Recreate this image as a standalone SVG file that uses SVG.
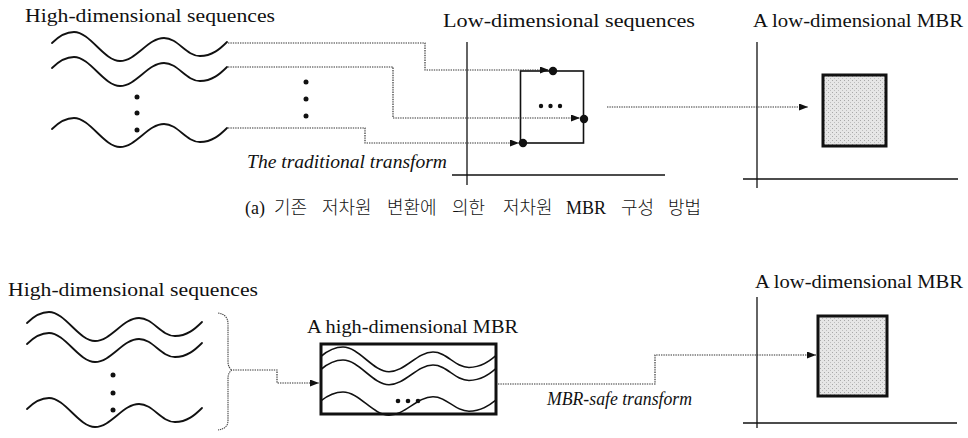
<svg xmlns="http://www.w3.org/2000/svg" width="968" height="438" viewBox="0 0 968 438">
<style>
.t{font-family:"Liberation Serif","Times New Roman",serif;font-size:19px;fill:#111}
.it{font-family:"Liberation Serif","Times New Roman",serif;font-size:18px;font-style:italic;fill:#111}
.cap{font-family:"Noto Sans CJK KR",sans-serif;font-size:18px;font-weight:300;fill:#111}
.lat{font-family:"Liberation Serif","Times New Roman",serif;font-size:18px;font-weight:normal}
.wave{fill:none;stroke:#111;stroke-width:1.8;stroke-linecap:round}
.axis{fill:none;stroke:#111;stroke-width:1.3}
.dot{fill:#111}
.conn{fill:none;stroke:#333;stroke-width:1.2;stroke-dasharray:1.4 1}
.mbr{fill:url(#stip);stroke:#111;stroke-width:3}
</style>
<defs>
<path id="w" d="M0,11 C6,5 14,0 22,0 C38,0 52,29 68,29 C84,29 96,6 112,6 C126,6 134,24 148,24 C160,24 168,17 175,10"/>
<pattern id="stip" width="4" height="4" patternUnits="userSpaceOnUse">
<rect width="4" height="4" fill="#e6e6e6"/>
<rect x="0" y="0" width="1" height="1" fill="#a8a8a8"/>
<rect x="2" y="2" width="1" height="1" fill="#bdbdbd"/>
</pattern>
<marker id="ah" markerUnits="userSpaceOnUse" markerWidth="9" markerHeight="7" refX="9" refY="3.5" orient="auto">
<path d="M0,0 L9,3.5 L0,7 Z" fill="#111"/>
</marker>
</defs>

<g id="top-hd-seqs">
<text class="t" x="25" y="22" textLength="250" lengthAdjust="spacingAndGlyphs">High-dimensional sequences</text>
<use href="#w" class="wave" transform="translate(52,32)"/>
<use href="#w" class="wave" transform="translate(52,57)"/>
<use href="#w" class="wave" transform="translate(52,118)"/>
<circle class="dot" cx="137" cy="97" r="2.5"/>
<circle class="dot" cx="137" cy="113" r="2.5"/>
<circle class="dot" cx="137" cy="130" r="2.5"/>
<circle class="dot" cx="306" cy="82" r="2.5"/>
<circle class="dot" cx="306" cy="99" r="2.5"/>
<circle class="dot" cx="306" cy="116" r="2.5"/>
</g>

<g id="top-ld-seqs">
<text class="t" x="443" y="27" textLength="252" lengthAdjust="spacingAndGlyphs">Low-dimensional sequences</text>
<line class="axis" x1="467" y1="42" x2="467" y2="185"/>
<line class="axis" x1="452" y1="175" x2="665" y2="175"/>
<rect x="520.5" y="71" width="63" height="72" fill="none" stroke="#111" stroke-width="1.6"/>
<circle class="dot" cx="541" cy="106" r="2.2"/>
<circle class="dot" cx="550.5" cy="106" r="2.2"/>
<circle class="dot" cx="560" cy="106" r="2.2"/>
</g>

<g id="top-ld-mbr">
<text class="t" x="753" y="27" textLength="210" lengthAdjust="spacingAndGlyphs">A low-dimensional MBR</text>
<line class="axis" x1="757" y1="42" x2="757" y2="188"/>
<line class="axis" x1="743" y1="179" x2="958" y2="179"/>
<rect class="mbr" x="823" y="75" width="63" height="71"/>
</g>

<g id="labels">
<text class="it" x="247" y="168" textLength="200" lengthAdjust="spacingAndGlyphs">The traditional transform</text>
<text class="cap" y="214"><tspan class="lat" x="245">(a)</tspan><tspan x="274">기존</tspan><tspan x="322">저차원</tspan><tspan x="387">변환에</tspan><tspan x="452">의한</tspan><tspan x="503">저차원</tspan><tspan class="lat" x="566">MBR</tspan><tspan x="621">구성</tspan><tspan x="668">방법</tspan></text>
<text class="it" x="547" y="405" textLength="145" lengthAdjust="spacingAndGlyphs">MBR-safe transform</text>
</g>

<g id="bottom-hd-seqs">
<text class="t" x="8" y="296" textLength="250" lengthAdjust="spacingAndGlyphs">High-dimensional sequences</text>
<use href="#w" class="wave" transform="translate(27,312)"/>
<use href="#w" class="wave" transform="translate(27,333)"/>
<use href="#w" class="wave" transform="translate(27,398)"/>
<circle class="dot" cx="113" cy="375" r="2.5"/>
<circle class="dot" cx="113" cy="393" r="2.5"/>
<circle class="dot" cx="113" cy="410" r="2.5"/>
<path d="M218,313 C225,314 228,318 228,324 V362 C228,366 230,369 232,370 C230,371 228,374 228,378 V420 C228,426 225,429 218,430" fill="none" stroke="#444" stroke-width="1.1" stroke-dasharray="1.4 0.8"/>
</g>

<g id="hd-mbr">
<text class="t" x="307" y="333" textLength="211" lengthAdjust="spacingAndGlyphs">A high-dimensional MBR</text>
<use href="#w" class="wave" transform="translate(321,347) scale(1,0.85)" style="vector-effect:non-scaling-stroke"/>
<use href="#w" class="wave" transform="translate(321,360) scale(1,0.85)" style="vector-effect:non-scaling-stroke"/>
<use href="#w" class="wave" transform="translate(321,392) scale(1,0.8)" style="vector-effect:non-scaling-stroke"/>
<circle class="dot" cx="398" cy="401" r="2.3"/>
<circle class="dot" cx="408" cy="401" r="2.3"/>
<circle class="dot" cx="418" cy="401" r="2.3"/>
<rect x="321" y="344" width="175" height="70" fill="none" stroke="#111" stroke-width="3"/>
</g>

<g id="bottom-ld-mbr">
<text class="t" x="755" y="288" textLength="208" lengthAdjust="spacingAndGlyphs">A low-dimensional MBR</text>
<line class="axis" x1="757" y1="297" x2="757" y2="428"/>
<line class="axis" x1="743" y1="423" x2="957" y2="423"/>
<rect class="mbr" x="818" y="316" width="69" height="80"/>
</g>

<g id="connectors">
<path class="conn" d="M228,43 H425 V70 H549" marker-end="url(#ah)"/>
<path class="conn" d="M228,67 H393 V118 H580" marker-end="url(#ah)"/>
<path class="conn" d="M228,128 H365 V143 H519" marker-end="url(#ah)"/>
<path class="conn" d="M607,107 H808" marker-end="url(#ah)"/>
<path class="conn" d="M233,370 H277 V383 H319" marker-end="url(#ah)"/>
<path class="conn" d="M498,384 H655 V355 H816" marker-end="url(#ah)"/>
</g>

<g id="point-dots">
<circle class="dot" cx="553" cy="71" r="4.2"/>
<circle class="dot" cx="584" cy="119" r="4.2"/>
<circle class="dot" cx="523" cy="143" r="4.2"/>
</g>
</svg>
